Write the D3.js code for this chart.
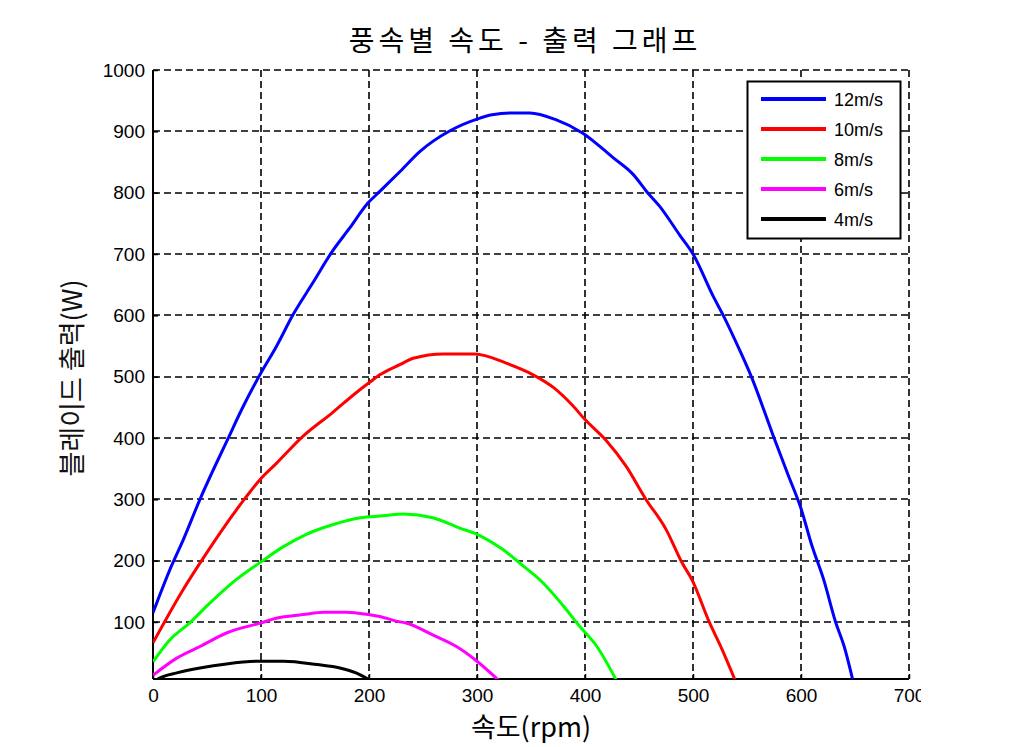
<!DOCTYPE html>
<html>
<head>
<meta charset="utf-8">
<script src="https://cdn.jsdelivr.net/npm/d3@7"></script>
<style>
  html, body { margin: 0; padding: 0; background: #fff; }
  svg { display: block; }
</style>
</head>
<body>
<svg id="chart" width="1036" height="747"></svg>
<script>
// ---- data ----
const chartTitle = "풍속별 속도 - 출력 그래프";
const xLabel = "속도(rpm)";
const yLabel = "블레이드 출력(W)";
const seriesNames = ["12m/s", "10m/s", "8m/s", "6m/s", "4m/s"];
const seriesColors = ["#0000ff", "#ff0000", "#00ff00", "#ff00ff", "#000000"];
const xTicks = [0, 100, 200, 300, 400, 500, 600, 700];
const yTicks = [100, 200, 300, 400, 500, 600, 700, 800, 900, 1000];

const rpm12 = [0, 17, 28, 43.5, 70, 82, 99, 114.5, 130, 148, 165.5, 182, 199, 210, 229, 247, 275, 300, 314, 333, 349, 373, 398, 426, 445, 457, 469, 488, 500, 519, 528, 543, 554, 574, 588, 600, 610, 621, 632, 640, 648];
const pow12 = [115, 191, 234, 300, 401, 446, 503, 550, 602, 653, 703, 742, 783, 802, 835, 867, 901, 920, 927, 930, 930, 919, 897, 857, 829, 802, 778, 730, 700, 630, 600, 544, 500, 405, 340, 285, 225, 169, 100, 60, 5];

const rpm10 = [0, 28, 43.5, 62, 85, 99, 114.5, 139, 166, 187.5, 200, 210, 229, 241, 269, 298, 327, 352, 371, 389, 400, 419, 438, 456, 475, 490, 499, 515, 527, 539];
const pow10 = [66, 153, 196, 245, 301, 332, 359, 403, 441, 473, 490, 503, 520, 530, 537, 537, 522, 503, 482, 452, 430, 397, 354, 301, 251, 196, 169, 100, 55, 5];

const rpm8 = [0, 15.7, 34, 52.8, 77, 100, 120, 142, 167, 192, 213, 232, 259, 284, 300, 324, 343, 361, 380, 395, 411, 429];
const pow8 = [35, 71, 98.5, 131, 169, 198, 222, 243, 259, 270, 273, 276, 270, 253, 243, 218, 191, 164, 126, 93, 60, 5];

const rpm6 = [0, 22, 43.5, 68, 100, 114, 139, 158, 179, 200, 210, 226, 235, 259, 281, 300, 320];
const pow6 = [13, 41, 60, 82, 98.5, 106, 112, 116, 116, 112, 109, 101, 98, 79, 60, 36, 5];

const rpm4 = [0, 6.5, 22, 43.5, 68, 99, 121, 152, 173, 188, 201];
const pow4 = [2, 9, 17, 25, 31.6, 36, 36, 30.5, 25, 17, 5];

const rpmSeries = [rpm12, rpm10, rpm8, rpm6, rpm4];
const powSeries = [pow12, pow10, pow8, pow6, pow4];

// ---- layout ----
const svg = d3.select("#chart");
const pLeft = 153, pRight = 909, pTop = 70, pBottom = 679;
const x = d3.scaleLinear().domain([0, 700]).range([pLeft, pRight]);
const y = d3.scaleLinear().domain([7, 1000]).range([pBottom, pTop]);

svg.append("rect").attr("width", 1036).attr("height", 747).attr("fill", "#fff");

svg.append("defs").append("clipPath").attr("id", "plotclip")
  .append("rect").attr("x", pLeft).attr("y", pTop).attr("width", pRight - pLeft).attr("height", pBottom - pTop);

// grid
const grid = svg.append("g").attr("stroke", "#000").attr("stroke-width", 1.6)
  .attr("stroke-dasharray", "7,4").attr("fill", "none");
grid.selectAll("line.vx").data(xTicks.filter(d => d > 0)).join("line")
  .attr("class", "vx")
  .attr("x1", d => Math.round(x(d))).attr("x2", d => Math.round(x(d)))
  .attr("y1", pTop).attr("y2", pBottom);
grid.selectAll("line.hy").data(yTicks).join("line")
  .attr("class", "hy")
  .attr("y1", d => Math.round(y(d))).attr("y2", d => Math.round(y(d)))
  .attr("x1", pLeft).attr("x2", pRight);

// axes
const xAxis = d3.axisBottom(x).tickValues(xTicks).tickSize(-5).tickPadding(10).tickFormat(d3.format("d"));
const yAxis = d3.axisLeft(y).tickValues(yTicks).tickSize(-5).tickPadding(8).tickFormat(d3.format("d"));
const gx = svg.append("g").attr("transform", `translate(0,${pBottom})`).call(xAxis);
const gy = svg.append("g").attr("transform", `translate(${pLeft},0)`).call(yAxis);
[gx, gy].forEach(g => {
  g.select(".domain").attr("stroke", "#000").attr("stroke-width", 2);
  g.selectAll(".tick line").attr("stroke", "#000").attr("stroke-width", 1.5);
  g.selectAll(".tick text").attr("fill", "#000")
    .style("font-family", "'Liberation Sans', Arial, sans-serif").style("font-size", "19px");
});
gx.select(".domain").attr("d", `M${pLeft},0H${pRight}`);
gy.select(".domain").attr("d", `M0,${pBottom}V${pTop}`);

// lines
const line = d3.line().x(d => x(d[0])).y(d => y(d[1])).curve(d3.curveMonotoneX);
const lines = svg.append("g").attr("clip-path", "url(#plotclip)");
seriesNames.forEach((name, i) => {
  const pts = rpmSeries[i].map((r, j) => [r, powSeries[i][j]]);
  lines.append("path").datum(pts).attr("d", line)
    .attr("fill", "none").attr("stroke", seriesColors[i]).attr("stroke-width", 3)
    .attr("stroke-linejoin", "round");
});

// legend
const lg = svg.append("g");
lg.append("rect").attr("x", 747.5).attr("y", 81.5).attr("width", 153).attr("height", 157)
  .attr("fill", "#fff").attr("stroke", "#000").attr("stroke-width", 2);
seriesNames.forEach((name, i) => {
  const yy = 99 + i * 30;
  lg.append("line").attr("x1", 761).attr("x2", 826).attr("y1", yy).attr("y2", yy)
    .attr("stroke", seriesColors[i]).attr("stroke-width", 4);
  lg.append("text").attr("x", 834).attr("y", yy + 7).text(name)
    .style("font-family", "'Liberation Sans', Arial, sans-serif").style("font-size", "18px").attr("fill", "#000");
});

// titles
svg.append("text").attr("x", 525).attr("y", 51).attr("text-anchor", "middle").text(chartTitle)
  .style("font-family", "'Noto Sans CJK KR', sans-serif").style("font-size", "28px")
  .style("letter-spacing", "4px").attr("fill", "#000");
svg.append("text").attr("x", 531).attr("y", 737).attr("text-anchor", "middle").text(xLabel)
  .style("font-family", "'Noto Sans CJK KR', sans-serif").style("font-size", "27px").attr("fill", "#000");
svg.append("text").attr("transform", "translate(82,378) rotate(-90)").attr("text-anchor", "middle").text(yLabel)
  .style("font-family", "'Noto Sans CJK KR', sans-serif").style("font-size", "27px").attr("fill", "#111");

// the reference picture is cut off on the right side
svg.append("rect").attr("x", 921).attr("y", 0).attr("width", 115).attr("height", 747).attr("fill", "#fff");
</script>
</body>
</html>
